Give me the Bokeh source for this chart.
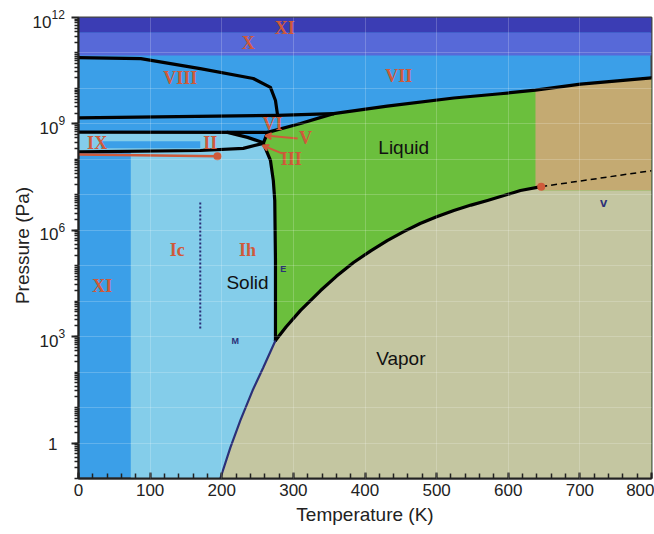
import numpy as np
from bokeh.plotting import figure
from bokeh.layouts import row
from bokeh.models import Range1d, FixedTicker, Arrow, VeeHead
from bokeh.core.properties import value
from bokeh.embed import file_html
from bokeh.resources import INLINE

# Phase boundaries of water, temperature in K and log10 of pressure in Pa
viii_T = [0, 87, 170, 244, 268, 275, 278]
viii_lp = [10.87, 10.84, 10.56, 10.28, 10.03, 9.66, 9.24]

vi_vii_T = [0, 278, 356]
vi_vii_lp = [9.17, 9.24, 9.29]

vii_liq_T = [356, 431, 524, 589, 638, 701, 800]
vii_liq_lp = [9.29, 9.50, 9.73, 9.85, 9.95, 10.12, 10.30]

ii_vi_T = [0, 264]
ii_vi_lp = [8.77, 8.76]

ii_v_T = [208, 236, 258]
ii_v_lp = [8.76, 8.62, 8.47]

ih_ii_T = [0, 170, 230, 258]
ih_ii_lp = [8.21, 8.25, 8.31, 8.45]

vi_liq_T = [258, 264, 310, 356]
vi_liq_lp = [8.45, 8.76, 9.01, 9.29]

melt_T = [258, 261, 268, 272, 274, 275, 275]
melt_lp = [8.45, 8.31, 7.97, 7.40, 6.84, 5.15, 2.89]

subl_T = [275, 258, 243, 226, 212, 198]
subl_lp = [2.89, 2.13, 1.48, 0.64, -0.13, -1.0]

vap_T = [275, 290, 310, 338, 360, 384, 408, 431, 454, 477, 500, 524, 548, 571, 594, 617, 646]
vap_lp = [2.89, 3.28, 3.74, 4.30, 4.70, 5.09, 5.42, 5.71, 5.96, 6.19, 6.38, 6.56, 6.71,
          6.84, 6.98, 7.12, 7.23]

crit_T, crit_lp = 646, 7.23
scrit_T = [646, 800]
scrit_lp = [7.23, 7.68]

red_T = [0, 194]
red_lp = [8.14, 8.09]

ic_ih_T = [170, 170]
ic_ih_lp = [3.23, 6.78]

x_band_lp = [10.93, 11.58]     # ice X: lower and upper bound
xi_top_lp = [11.58, 12.0]      # ice XI (high pressure band)
xi_low_T = 73                  # ice XI / Ic limit
ix_T = [31, 170]
ix_lp = [8.31, 8.51]
tan_T = [638, 800]
tan_lp_bottom = 7.12

x_ticks = [0, 100, 200, 300, 400, 500, 600, 700, 800]
y_tick_exp = [0, 3, 6, 9, 12]

phase_labels = ["XI", "X", "VIII", "VII", "VI", "V", "III", "II", "IX", "Ic", "Ih", "XI"]
phase_T = [288, 237, 142, 447, 271, 317, 297, 184, 26, 138, 236, 33]
phase_lp = [11.69, 11.27, 10.28, 10.36, 9.01, 8.59, 8.02, 8.47, 8.47, 5.43, 5.43, 4.44]

state_labels = ["Solid", "Liquid", "Vapor"]
state_T = [236, 454, 450]
state_lp = [4.53, 8.33, 2.38]

mark_labels = ["E", "M", "v"]
mark_T = [286, 219, 733]
mark_lp = [4.92, 2.89, 6.78]
mark_sizes = ["9px", "9px", "13px"]


def P(lp):
    return [10.0 ** v for v in np.atleast_1d(lp)]


MED = "#3b9fe8"
LIGHT = "#84cdea"
GREEN = "#6bbf3d"
TAN = "#c4aa72"
VAPOR = "#c4c6a1"
XBLUE = "#5769d8"
XIBLUE = "#3b3db4"
RED = "#cf5a3a"
NAVY = "#2b3078"
INK = "#222222"

# layout in pixels
W, H = 654, 534
LEFT_W = 66            # margin panel holding the pressure labels
TOP, BOTTOM = 17, 56   # frame insets
PX_PER_DECADE = (H - TOP - BOTTOM) / 13.0

p = figure(width=W - LEFT_W, height=H, output_backend="svg", toolbar_location=None,
           x_range=Range1d(0, 800), y_range=Range1d(1e-1, 1e12), y_axis_type="log",
           min_border_left=12, min_border_right=3, min_border_top=TOP, min_border_bottom=BOTTOM,
           background_fill_color=MED, border_fill_color="white")

# liquid
g_T = melt_T[::-1] + vi_liq_T[1:] + vii_liq_T[1:] + [800, 275]
g_lp = melt_lp[::-1] + vi_liq_lp[1:] + vii_liq_lp[1:] + [-1, -1]
p.patch(g_T, P(g_lp), fill_color=GREEN, line_color=None)

# supercritical fluid
t_T = [tan_T[0]] + [t for t in vii_liq_T if t >= tan_T[0]] + [tan_T[1]]
t_lp = [tan_lp_bottom] + [l for t, l in zip(vii_liq_T, vii_liq_lp) if t >= tan_T[0]] + [tan_lp_bottom]
p.patch(t_T, P(t_lp), fill_color=TAN, line_color=None)

# vapor
v_T = subl_T[::-1] + vap_T[1:] + [crit_T, 800, 800]
v_lp = subl_lp[::-1] + vap_lp[1:] + [tan_lp_bottom, tan_lp_bottom, -1]
p.patch(v_T, P(v_lp), fill_color=VAPOR, line_color=None)

# ice Ic / Ih and ice II
l_T = [xi_low_T, xi_low_T, 0, 0] + ii_v_T + melt_T[1:] + subl_T[1:]
l_lp = [-1, 8.22, ih_ii_lp[0], ii_vi_lp[0]] + ii_v_lp + melt_lp[1:] + subl_lp[1:]
p.patch(l_T, P(l_lp), fill_color=LIGHT, line_color=None)

# ice IX
p.quad(left=ix_T[0], right=ix_T[1], bottom=P(ix_lp[0]), top=P(ix_lp[1]),
       fill_color=MED, line_color=None)

# ice X and high pressure band
p.quad(left=0, right=800, bottom=P(x_band_lp[0]), top=P(x_band_lp[1]),
       fill_color=XBLUE, line_color=None)
p.quad(left=0, right=800, bottom=P(xi_top_lp[0]), top=P(xi_top_lp[1]),
       fill_color=XIBLUE, line_color=None)

# phase boundaries
for T, lp in [(viii_T, viii_lp), (vi_vii_T, vi_vii_lp), (vii_liq_T, vii_liq_lp),
              (ii_vi_T, ii_vi_lp), (ii_v_T, ii_v_lp), (ih_ii_T, ih_ii_lp),
              (vi_liq_T, vi_liq_lp), (melt_T, melt_lp), (vap_T, vap_lp)]:
    p.line(T, P(lp), line_color="black", line_width=3.2, line_join="round", line_cap="round")

p.line(subl_T, P(subl_lp), line_color=NAVY, line_width=2.2)
p.line(scrit_T, P(scrit_lp), line_color="black", line_width=1.5, line_dash="6 4")
p.line(red_T, P(red_lp), line_color=RED, line_width=2.5)
p.scatter([red_T[1]], P(red_lp[1]), size=8, fill_color=RED, line_color=None)
p.scatter([crit_T], P(crit_lp), size=8, fill_color=RED, line_color=None)
p.line(ic_ih_T, P(ic_ih_lp), line_color=NAVY, line_width=2, line_dash="2 2")

# arrows to the small phase fields
for (x0, l0, x1, l1) in [(306, 8.59, 261, 8.67), (285, 8.16, 257, 8.39)]:
    p.add_layout(Arrow(end=VeeHead(size=6, line_color=RED, line_width=2),
                       x_start=x0, y_start=10 ** l0, x_end=x1, y_end=10 ** l1,
                       line_color=RED, line_width=2))

# grid
p.xgrid.ticker = FixedTicker(ticks=x_ticks)
p.ygrid.ticker = FixedTicker(ticks=[10.0 ** k for k in range(-1, 13)])
for g in (p.xgrid, p.ygrid):
    g.grid_line_color = "white"
    g.grid_line_alpha = 0.2
    g.grid_line_width = 1
    g.level = "overlay"

# text
p.text(phase_T, P(phase_lp), text=phase_labels, text_color=RED,
       text_font=value("Liberation Serif"), text_font_size="18px", text_font_style="bold",
       text_align="center", text_baseline="middle")
p.text(state_T, P(state_lp), text=state_labels, text_color="#111111",
       text_font=value("Liberation Sans"), text_font_size="19px",
       text_align="center", text_baseline="middle")
for lab_txt, T, lp, s in zip(mark_labels, mark_T, mark_lp, mark_sizes):
    p.text([T], P(lp), text=[lab_txt], text_color=NAVY,
           text_font=value("Liberation Sans"), text_font_size=s, text_font_style="bold",
           text_align="center", text_baseline="middle")

# axes
p.xaxis.ticker = FixedTicker(ticks=x_ticks, minor_ticks=list(range(0, 801, 20)))
minor_y = [k * 10.0 ** n for n in range(-1, 12) for k in range(1, 10)]
p.yaxis.ticker = FixedTicker(ticks=[10.0 ** e for e in y_tick_exp], minor_ticks=minor_y)
p.yaxis.major_label_overrides = {10.0 ** e: "" for e in y_tick_exp}
p.yaxis.major_label_standoff = 0
p.xaxis.axis_label = "Temperature (K)"
for ax in (p.xaxis, p.yaxis):
    ax.axis_line_color = INK
    ax.axis_line_width = 2
    ax.major_tick_line_color = INK
    ax.minor_tick_line_color = INK
    ax.major_tick_line_width = 2
    ax.minor_tick_line_width = 1.5
p.xaxis.major_label_text_font = "Liberation Sans"
p.xaxis.major_label_text_font_size = "17px"
p.xaxis.major_label_text_color = INK
p.xaxis.axis_label_text_font = "Liberation Sans"
p.xaxis.axis_label_text_font_size = "19px"
p.xaxis.axis_label_text_font_style = "normal"
p.xaxis.axis_label_text_color = INK
p.xaxis.major_tick_in = 6
p.xaxis.major_tick_out = 0
p.xaxis.minor_tick_in = 5
p.xaxis.minor_tick_out = 0
p.xaxis.major_label_standoff = 5
p.xaxis.axis_label_standoff = 5
p.yaxis.major_tick_in = 0
p.yaxis.major_tick_out = 7
p.yaxis.minor_tick_in = 0
p.yaxis.minor_tick_out = 4

p.outline_line_color = "#444444"
p.outline_line_width = 2

# left margin panel: pressure tick labels (powers of ten) and the axis title;
# its frame spans the whole canvas height with the same decade spacing
lo = -1 - BOTTOM / PX_PER_DECADE
hi = 12 + TOP / PX_PER_DECADE
lab = figure(width=LEFT_W, height=H, output_backend="svg", toolbar_location=None,
             x_range=Range1d(0, LEFT_W), y_range=Range1d(10 ** lo, 10 ** hi), y_axis_type="log",
             min_border=0, background_fill_color="white", border_fill_color="white")
lab.frame_align = False
lab.axis.visible = False
lab.grid.visible = False
lab.outline_line_color = None

base_x, base_y, exp_x, exp_y, exp_txt = [], [], [], [], []
for e in y_tick_exp:
    if e == 0:
        continue
    s = str(e)
    right = 65 - 7 * len(s)
    base_x.append(right)
    base_y.append(10.0 ** e)
    exp_x.append(right)
    exp_y.append(10.0 ** e)
    exp_txt.append(s)

lab.text(base_x, base_y, text=["10"] * len(base_x), text_align="right", text_baseline="middle",
         text_font=value("Liberation Sans"), text_font_size="17px", text_color=INK, y_offset=4)
lab.text(exp_x, exp_y, text=exp_txt, text_align="left", text_baseline="middle",
         text_font=value("Liberation Sans"), text_font_size="12px", text_color=INK, y_offset=-3)
lab.text([57], [1.0], text=["1"], text_align="right", text_baseline="middle",
         text_font=value("Liberation Sans"), text_font_size="17px", text_color=INK, y_offset=1)
lab.text([22], [10 ** 5.57], text=["Pressure (Pa)"], angle=np.pi / 2, text_align="center",
         text_baseline="middle", text_font=value("Liberation Sans"), text_font_size="19px",
         text_color=INK)

layout = row(lab, p, spacing=0)
open("out.html", "w").write(file_html(layout, INLINE))
